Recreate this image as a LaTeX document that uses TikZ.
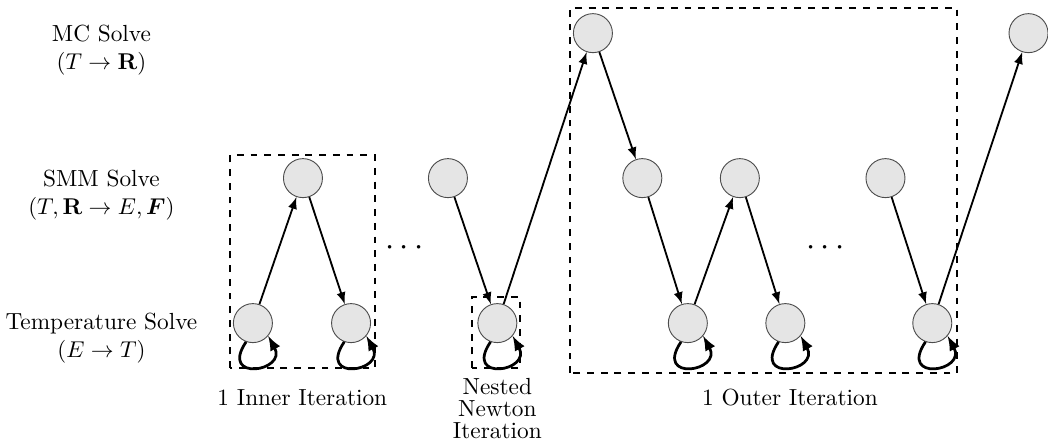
\documentclass[tikz,border=0pt]{standalone}
\usepackage{amsmath}
\usepackage{bm}
\usepackage{tikz}
\usetikzlibrary{arrows}

\begin{document}
\begin{tikzpicture}[solve/.style={circle, draw=black!70, fill=gray!20, minimum size=0.6cm, inner sep=0pt},
	flow/.style={thick,-latex},
	selfloop/.style={very thick,-latex},
	itbox/.style={thick,dashed},
	every node/.append style={font=\fontsize{10.2}{12.5}\selectfont}]

	\useasboundingbox (0,-1.85) rectangle (16.12,4.97);

	% row labels
	\node[align=center] (mclabel) at (1.56,4.2) {MC Solve\\$(T\rightarrow\mathbf{R})$};
	\node[align=center] (smmlabel) at (1.56,1.97) {SMM Solve\\$(T,\mathbf{R}\rightarrow E,\bm{F})$};
	\node[align=center] (templabel) at (1.56,-0.23) {Temperature Solve\\$(E\rightarrow T)$};

	% solves
	\node[solve] (T1) at (3.89,0) {};
	\node[solve] (T2) at (5.40,0) {};
	\node[solve] (T3) at (7.65,0) {};
	\node[solve] (T4) at (10.58,0) {};
	\node[solve] (T5) at (12.08,0) {};
	\node[solve] (T6) at (14.34,0) {};

	\node[solve] (S1) at (4.66,2.23) {};
	\node[solve] (S2) at (6.89,2.23) {};
	\node[solve] (S3) at (9.88,2.23) {};
	\node[solve] (S4) at (11.38,2.23) {};
	\node[solve] (S5) at (13.62,2.23) {};

	\node[solve] (M1) at (9.12,4.46) {};
	\node[solve] (M2) at (15.82,4.46) {};

	\node[font=\Large] (dots1) at (6.26,1.15) {$\cdots$};
	\node[font=\Large] (dots2) at (12.74,1.15) {$\cdots$};

	% connections
	\draw[flow] (T1) -- (S1);
	\draw[flow] (S1) -- (T2);
	\draw[flow] (S2) -- (T3);
	\draw[flow] (T3) -- (M1);
	\draw[flow] (M1) -- (S3);
	\draw[flow] (S3) -- (T4);
	\draw[flow] (T4) -- (S4);
	\draw[flow] (S4) -- (T5);
	\draw[flow] (S5) -- (T6);
	\draw[flow] (T6) -- (M2);

	\foreach \t in {T1,T2,T3,T4,T5,T6}
		\draw[selfloop] (\t.250) .. controls +(-0.42,-0.62) and +(0.3,-0.55) .. (\t.-40);

	% iteration boxes
	\draw[itbox] (3.54,-0.69) rectangle (5.77,2.58);
	\draw[itbox] (7.26,-0.69) rectangle (8.0,0.4);
	\draw[itbox] (8.77,-0.77) rectangle (14.72,4.85);

	\node (inner) at (4.65,-1.15) {1 Inner Iteration};
	\node[align=center] (nested) at (7.65,-1.31) {Nested\\[-2.8pt]Newton\\[-2.8pt]Iteration};
	\node (outer) at (12.15,-1.15) {1 Outer Iteration};

\end{tikzpicture}
\end{document}
